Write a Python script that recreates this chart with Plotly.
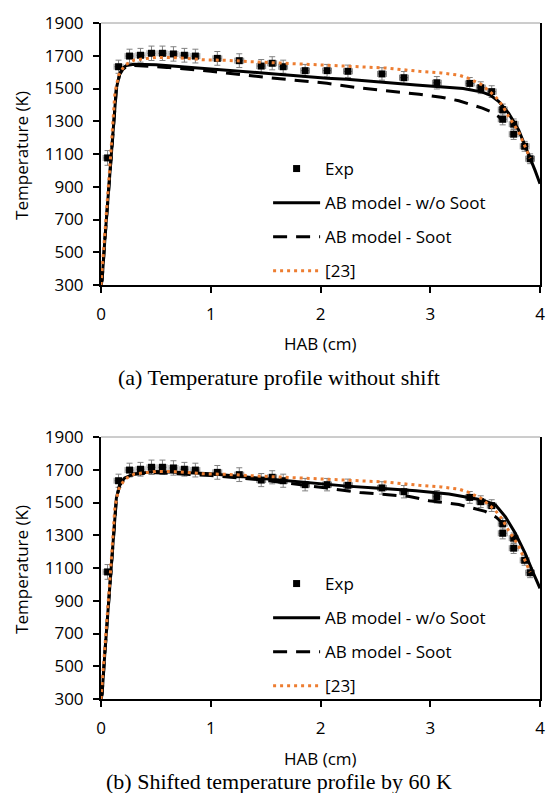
import plotly.graph_objects as go

# Experimental temperature profile (HAB in cm, T in K)
exp_hab = [0.06, 0.16, 0.26, 0.36, 0.46, 0.56, 0.66, 0.76, 0.86, 1.06, 1.26, 1.46, 1.56, 1.66,
           1.86, 2.06, 2.25, 2.56, 2.76, 3.06, 3.36, 3.46, 3.56, 3.66, 3.66, 3.76, 3.76, 3.86, 3.91]
exp_temp = [1076, 1633, 1698, 1703, 1715, 1715, 1711, 1703, 1698, 1684, 1670, 1637, 1654, 1633,
            1609, 1609, 1605, 1589, 1566, 1535, 1531, 1505, 1481, 1371, 1312, 1282, 1221, 1147, 1071]
exp_err_t = [45, 40, 42, 42, 44, 44, 44, 42, 42, 42, 42, 40, 40, 40,
             38, 38, 38, 38, 38, 38, 36, 36, 36, 34, 34, 32, 32, 30, 30]
exp_err_h = [0.04] * len(exp_hab)

# Reference [23] profile
ref_hab = [0.0, 0.03, 0.06, 0.09, 0.126, 0.16, 0.216, 0.306, 0.5, 0.7, 0.94, 1.15, 1.36, 1.7,
           2.0, 2.24, 2.6, 2.9, 3.1, 3.26, 3.35, 3.475, 3.595, 3.655, 3.715, 3.805, 3.895, 3.91]
ref_temp = [300, 560, 840, 1110, 1470, 1580, 1643, 1674, 1690, 1688, 1675, 1672, 1664, 1654,
            1645, 1637, 1625, 1605, 1595, 1582, 1562, 1521, 1450, 1399, 1328, 1236, 1104, 1074]

# (a) AB model, no shift
a_nosoot_hab = [0.0, 0.01, 0.035, 0.065, 0.095, 0.115, 0.14, 0.17, 0.2, 0.23, 0.3, 0.5, 1.0, 1.5,
                2.06, 2.24, 2.87, 3.06, 3.17, 3.3, 3.475, 3.55, 3.625, 3.714, 3.805, 3.895, 3.955, 4.0]
a_nosoot_temp = [300, 330, 575, 840, 1120, 1250, 1500, 1590, 1625, 1640, 1648, 1645, 1620, 1593,
                 1562, 1556, 1521, 1513, 1508, 1500, 1478, 1458, 1420, 1349, 1247, 1104, 1000, 918]
a_soot_hab = [0.0, 0.01, 0.035, 0.065, 0.095, 0.115, 0.14, 0.17, 0.2, 0.23, 0.3, 0.6, 1.0, 1.5,
              2.06, 2.36, 2.6, 2.9, 3.1, 3.26, 3.475, 3.55, 3.62, 3.67]
a_soot_temp = [300, 330, 575, 840, 1120, 1250, 1495, 1585, 1618, 1632, 1640, 1629, 1605, 1568,
               1532, 1503, 1487, 1465, 1447, 1425, 1380, 1360, 1330, 1300]

# (b) AB model, shifted by 60 K
b_nosoot_hab = [0.0, 0.01, 0.035, 0.065, 0.095, 0.115, 0.14, 0.17, 0.216, 0.3, 0.5, 0.85, 1.0, 1.4,
                2.06, 2.24, 2.5, 2.87, 3.17, 3.475, 3.595, 3.685, 3.775, 3.865, 3.94, 4.0]
b_nosoot_temp = [300, 330, 580, 850, 1130, 1270, 1526, 1610, 1650, 1675, 1690, 1680, 1675, 1651,
                 1610, 1600, 1588, 1572, 1552, 1515, 1485, 1413, 1312, 1190, 1068, 976]
b_soot_hab = [0.0, 0.01, 0.035, 0.065, 0.095, 0.115, 0.14, 0.17, 0.216, 0.3, 0.5, 1.0, 1.5,
              2.06, 2.36, 2.81, 2.99, 3.26, 3.5, 3.6, 3.65]
b_soot_temp = [300, 330, 580, 850, 1130, 1270, 1520, 1605, 1645, 1672, 1682, 1665, 1635,
               1588, 1561, 1537, 1511, 1488, 1446, 1410, 1380]

x_ticks = [0, 1, 2, 3, 4]
y_ticks = [300, 500, 700, 900, 1100, 1300, 1500, 1700, 1900]

FONT = "Open Sans"
ORANGE = "#ED7D31"

fig = go.Figure()


def add_panel(xa, ya, legend, nosoot_hab, nosoot_temp, soot_hab, soot_temp):
    fig.add_trace(go.Scatter(
        x=exp_hab, y=exp_temp, mode="markers", name="Exp",
        marker=dict(symbol="square", size=7, color="black"),
        error_y=dict(type="data", array=exp_err_t, color="#808080", thickness=1, width=3),
        error_x=dict(type="data", array=exp_err_h, color="#808080", thickness=1, width=3),
        xaxis=xa, yaxis=ya, legend=legend, legendgroup=legend + "exp",
    ))
    fig.add_trace(go.Scatter(
        x=nosoot_hab, y=nosoot_temp, mode="lines", name="AB model - w/o Soot",
        line=dict(color="black", width=3),
        xaxis=xa, yaxis=ya, legend=legend, legendgroup=legend + "ns",
    ))
    fig.add_trace(go.Scatter(
        x=soot_hab, y=soot_temp, mode="lines", name="AB model - Soot",
        line=dict(color="black", width=3, dash="14px,9px"),
        xaxis=xa, yaxis=ya, legend=legend, legendgroup=legend + "s",
    ))
    fig.add_trace(go.Scatter(
        x=ref_hab, y=ref_temp, mode="lines", name="[23]",
        line=dict(color=ORANGE, width=3, dash="3px,4px"),
        xaxis=xa, yaxis=ya, legend=legend, legendgroup=legend + "r",
    ))


add_panel("x", "y", "legend", a_nosoot_hab, a_nosoot_temp, a_soot_hab, a_soot_temp)
add_panel("x2", "y2", "legend2", b_nosoot_hab, b_nosoot_temp, b_soot_hab, b_soot_temp)

axis_common = dict(
    showline=True, linecolor="black", linewidth=2, showgrid=False, zeroline=False,
    ticks="outside", ticklen=6, tickwidth=1.5, tickcolor="black",
    tickfont=dict(family=FONT, size=17, color="black"),
)
xaxis_style = dict(range=[0, 4], tickvals=x_ticks, ticklabelstandoff=7, **axis_common)
yaxis_style = dict(range=[300, 1900], tickvals=y_ticks, ticklabelstandoff=6,
                   mirror=True, **axis_common)

# plot areas: top panel spans y=23..285 px, bottom y=437..699 px (height 793)
top_dom = [(699 - 285) / 676, 1.0]
bot_dom = [0.0, (699 - 437) / 676]

legend_style = dict(xanchor="left", yanchor="top", bgcolor="rgba(0,0,0,0)",
                    font=dict(family=FONT, size=17, color="black"),
                    itemwidth=47, tracegroupgap=9)

fig.update_layout(
    width=552, height=793,
    margin=dict(l=101, r=7, t=23, b=94),
    paper_bgcolor="white", plot_bgcolor="white",
    showlegend=True,
    xaxis=dict(anchor="y", **xaxis_style),
    yaxis=dict(domain=top_dom, anchor="x", **yaxis_style),
    xaxis2=dict(anchor="y2", **xaxis_style),
    yaxis2=dict(domain=bot_dom, anchor="x2", **yaxis_style),
    legend=dict(x=(270 - 101) / 444, y=(699 - 151) / 676, **legend_style),
    legend2=dict(x=(270 - 101) / 444, y=(699 - 566) / 676, **legend_style),
)


def px_x(px):
    return (px - 101) / 444


def px_y(py):
    return (699 - py) / 676


# thin frame line along the top of each plot area
for dom in (top_dom, bot_dom):
    fig.add_shape(type="line", xref="paper", yref="paper", x0=0, x1=1, y0=dom[1], y1=dom[1],
                  line=dict(color="#9a9a9a", width=1))

annotations = [
    dict(text="HAB (cm)", x=px_x(323), y=px_y(343)),
    dict(text="HAB (cm)", x=px_x(323), y=px_y(758)),
    dict(text="Temperature (K)", x=px_x(20), y=px_y(155), textangle=-90),
    dict(text="Temperature (K)", x=px_x(20), y=px_y(569), textangle=-90),
]
for a in annotations:
    fig.add_annotation(xref="paper", yref="paper", showarrow=False,
                       xanchor="center", yanchor="middle",
                       font=dict(family=FONT, size=17, color="black"), **a)

for text, py in [("(a) Temperature profile without shift", 377),
                 ("(b) Shifted temperature profile by 60 K", 782)]:
    fig.add_annotation(xref="paper", yref="paper", showarrow=False, text=text,
                       x=px_x(281), y=px_y(py), xanchor="center", yanchor="middle",
                       font=dict(family="Liberation Serif", size=22, color="black"))

fig.write_html("out.html")
